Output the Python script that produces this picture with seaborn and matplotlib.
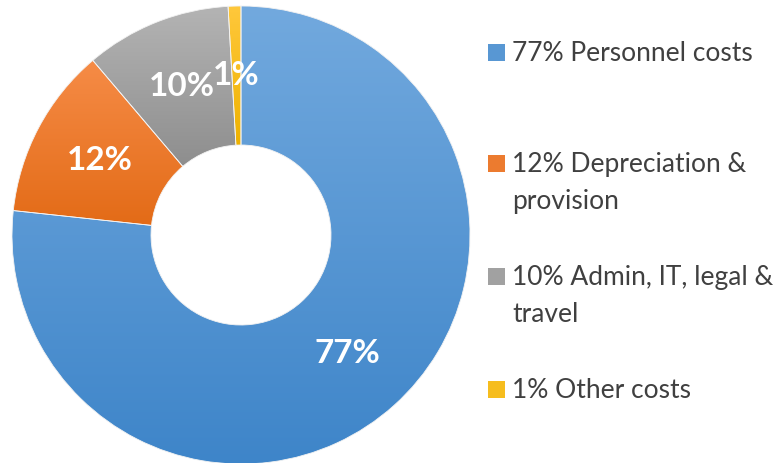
import numpy as np
import matplotlib
matplotlib.use("Agg")
import matplotlib.pyplot as plt
from matplotlib.patches import Rectangle
import seaborn as sns

# cost shares (percent)
categories = ["Personnel costs", "Depreciation & provision", "Admin, IT, legal & travel", "Other costs"]
shares = [76.7, 12.1, 10.3, 0.9]
legend_lines = [
    ["77% Personnel costs"],
    ["12% Depreciation &", "provision"],
    ["10% Admin, IT, legal &", "travel"],
    ["1% Other costs"],
]
# gradient (top, bottom) per slice
grad_colors = [
    ("#72a9de", "#3e85c9"),
    ("#f68c47", "#e36b17"),
    ("#b4b4b4", "#8e8e8e"),
    ("#ffc83c", "#eeb200"),
]

sns.set_theme(style="white")
plt.rcParams["font.family"] = ["Lato", "DejaVu Sans"]

W, H = 780, 463
fig = plt.figure(figsize=(W / 100, H / 100), dpi=100)
ax = fig.add_axes([0, 0, 1, 1])

cx, cy, R = 241, 235, 229
hole = 90 / R

wedges, _, autotexts = ax.pie(
    shares, startangle=90, counterclock=False, radius=1, center=(0, 0),
    autopct="%.0f%%", pctdistance=(1 + hole) / 2,
    wedgeprops=dict(width=1 - hole, edgecolor="#f2f2f2", linewidth=0.6),
    textprops=dict(color="white", fontsize=24, fontweight="bold"),
)

for w, (top, bot) in zip(wedges, grad_colors):
    pal = np.array(sns.blend_palette([top, bot], n_colors=256))
    ext = w.get_path().get_extents()
    img = ax.imshow(pal[:, None, :], extent=(ext.x0, ext.x1, ext.y0, ext.y1),
                    origin="upper", aspect="auto", interpolation="bilinear", zorder=1)
    img.set_clip_path(w)
    w.set_facecolor("none")
    w.set_zorder(2)
for t in autotexts:
    t.set_zorder(3)

ax.set_xlim(-cx / R, (W - cx) / R)
ax.set_ylim((cy - H) / R, cy / R)
ax.set_aspect("auto")
ax.axis("off")

# legend drawn by hand so the wrapped entries sit like the original
baselines = [[61], [172, 209], [285, 322], [398]]
for lines, bl, (top, bot) in zip(legend_lines, baselines, grad_colors):
    sq = sns.blend_palette([top, bot], n_colors=3)[1]
    fig.patches.append(Rectangle((488 / W, 1 - (bl[0]) / H), 17 / W, 17 / H,
                                 transform=fig.transFigure, facecolor=sq, edgecolor="none"))
    for txt, b in zip(lines, bl):
        fig.text(512 / W, 1 - b / H, txt, fontsize=19, color="#404040",
                 ha="left", va="baseline")

fig.savefig("out.png", dpi=100)
